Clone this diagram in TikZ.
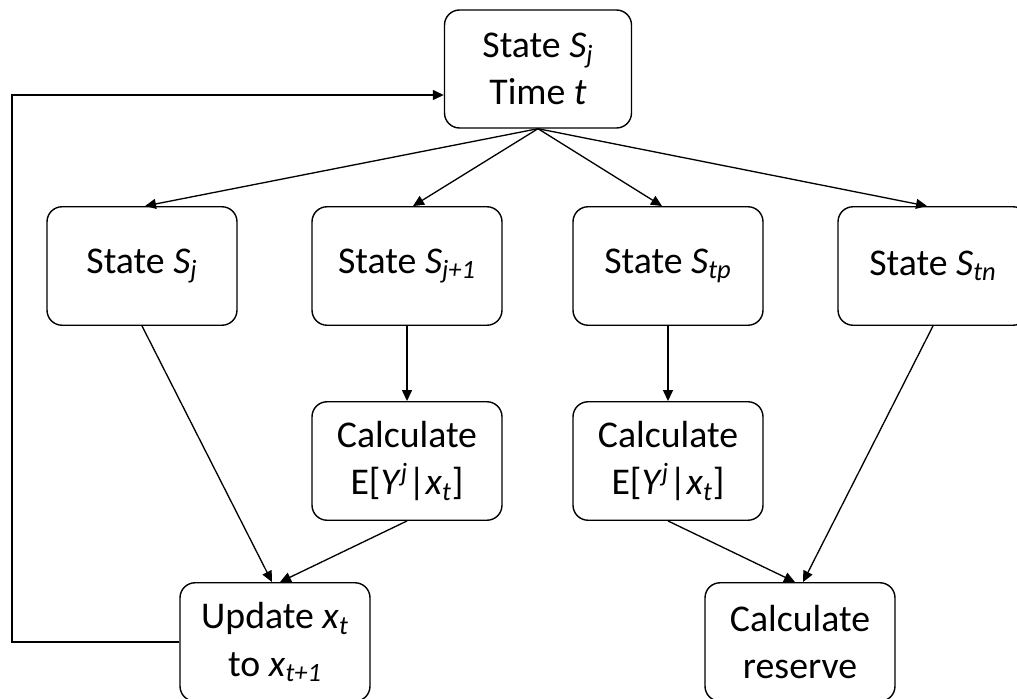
\documentclass[tikz,border=0pt]{standalone}
\usepackage{fontspec}
\setmainfont{Carlito}
\usetikzlibrary{arrows.meta}
\newcommand{\iv}[1]{\textit{#1}}
\newcommand{\isub}[1]{\textsubscript{\textit{#1}}}
\newcommand{\isup}[1]{\textsuperscript{\textit{#1}}}

\begin{document}
\begin{tikzpicture}[x=0.02cm, y=-0.02cm,
            box/.style={draw, line width=0.8pt, rounded corners=0.3cm, minimum width=3.8cm,
                minimum height=2.37cm, align=center, inner sep=0pt,
                font=\fontsize{21.5}{27}\selectfont},
            arr/.style={-{Triangle[length=0.22cm,width=0.2cm]}, line width=0.75pt}]
            \useasboundingbox (0,0) rectangle (1017,699);
            % boxes
            \node [box, minimum width=3.74cm, minimum height=2.36cm] (top) at (538,69) {State \iv{S}\isub{j}\\Time \iv{t}};
            \node [box] (sj) at (142,266) {State \iv{S}\isub{j}};
            \node [box] (sj1) at (407,266) {State \iv{S}\isub{j+1}};
            \node [box] (stp) at (668,266) {State \iv{S}\isub{tp}};
            \node [box] (stn) at (933,266) {State \iv{S}\isub{tn}};
            \node [box] (calc1) at (407,461) {Calculate\\E[\iv{Y}\isup{j}|\iv{x}\isub{t}]};
            \node [box] (calc2) at (668,461) {Calculate\\E[\iv{Y}\isup{j}|\iv{x}\isub{t}]};
            \node [box] (upd) at (275,642) {Update \iv{x}\isub{t}\\to \iv{x}\isub{t+1}};
            \node [box] (res) at (800,642) {Calculate\\reserve};
            % arrows
            \draw [arr] (top.south) -- ([xshift=0.06cm]sj.north);
            \draw [arr] (top.south) -- ([xshift=0.12cm]sj1.north);
            \draw [arr] (top.south) -- ([xshift=-0.12cm]stp.north);
            \draw [arr] (top.south) -- ([xshift=-0.12cm]stn.north);
            \draw [arr] (sj1) -- (calc1);
            \draw [arr] (stp) -- (calc2);
            \draw [arr] (sj.south) -- ([xshift=-0.06cm]upd.north);
            \draw [arr] (calc1.south) -- ([xshift=0.1cm]upd.north);
            \draw [arr] (calc2.south) -- ([xshift=-0.1cm]res.north);
            \draw [arr] (stn.south) -- ([xshift=0.06cm]res.north);
            % loop back
            \coordinate (corner) at (12,95);
            \draw [arr] (upd.west) -| (corner) -- (corner -| top.west);
\end{tikzpicture}
\end{document}
